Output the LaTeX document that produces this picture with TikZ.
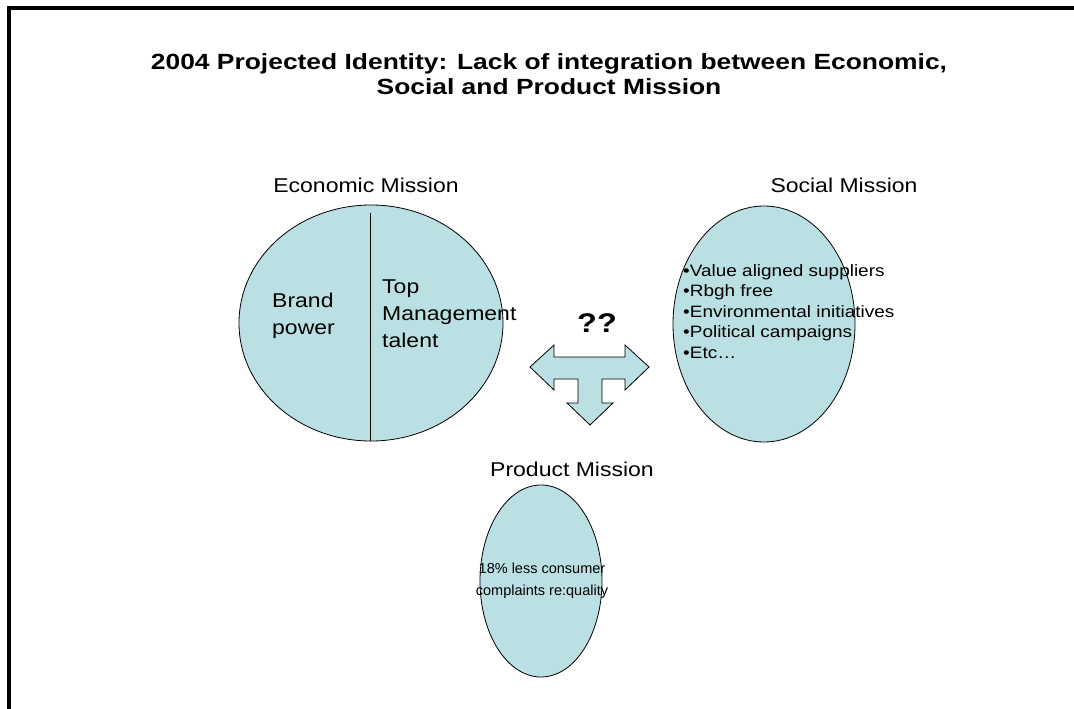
\documentclass[tikz,border=0pt]{standalone}
\usepackage{fontspec}
\setmainfont{Liberation Sans}
\newfontfamily\titlefont{Liberation Sans}[FakeStretch=1.2]
\newfontfamily\labfont{Liberation Sans}[FakeStretch=1.15]
\usetikzlibrary{shapes.geometric}
\definecolor{blob}{RGB}{187,224,227}
\tikzset{
  blobshape/.style={ellipse, draw=black, line width=0.8pt, fill=blob, inner sep=0pt},
  heading/.style={font=\labfont\fontsize{20}{24}\selectfont, inner sep=0pt},
  body/.style={font=\labfont\fontsize{20}{27}\selectfont, inner sep=0pt, align=left},
  listtext/.style={font=\labfont\fontsize{16.5}{20.5}\selectfont, inner sep=0pt, align=left},
  prodstyle/.style={font=\fontsize{14.5}{22}\selectfont, inner sep=0pt, align=center},
}
\begin{document}
\begin{tikzpicture}[x=1pt,y=-1pt]
\useasboundingbox (0,0) rectangle (1074,709);
\fill[white] (0,0) rectangle (1074,709);
\draw[line width=4pt] (9,711) -- (9,8) -- (1076,8);

% title
\node[font=\titlefont\bfseries\fontsize{22}{25}\selectfont, align=center, inner sep=0pt, anchor=base] (title) at (549,95)
  {2004 Projected Identity: Lack of integration between Economic,\\ Social and Product Mission};

% economic mission
\node[heading, anchor=base] (econlab) at (366,192) {Economic Mission};
\node[blobshape, minimum width=264pt, minimum height=236pt] (econ) at (371,323) {};
\coordinate (divtop) at (370,213);
\coordinate (divbot) at (370,441);
\draw[line width=0.8pt] (divtop) -- (divbot);
\node[body, anchor=north west] (brand) at (272,293) {Brand\\power};
\node[body, anchor=north west] (topm) at (382,280) {Top\\Management\\talent};

% social mission
\node[heading, anchor=base] (soclab) at (844,192) {Social Mission};
\node[blobshape, minimum width=182pt, minimum height=236pt] (soc) at (764,324) {};
\node[listtext, anchor=north west] (soclist) at (683,264)
  {\textbullet Value aligned suppliers\\\textbullet Rbgh free\\\textbullet Environmental initiatives\\\textbullet Political campaigns\\\textbullet Etc\ldots};

% arrow
\node[font=\titlefont\bfseries\fontsize{27}{28}\selectfont, inner sep=0pt, anchor=base] (qq) at (597,332) {??};
\draw[line width=0.8pt, fill=blob]
  (530,367) -- (554,345) -- (554,357) -- (625,357) -- (625,345) -- (649,367)
  -- (625,390) -- (625,379) -- (602,379) -- (602,403) -- (613,403) -- (590,425)
  -- (567,403) -- (578,403) -- (578,379) -- (554,379) -- (554,390) -- cycle;

% product mission
\node[heading, anchor=base] (prodlab) at (572,476) {Product Mission};
\node[blobshape, minimum width=122pt, minimum height=192pt] (prod) at (541,581) {};
\node[prodstyle, anchor=center] (prodtext) at (542,581) {18\% less consumer\\complaints re:quality};
\end{tikzpicture}
\end{document}
